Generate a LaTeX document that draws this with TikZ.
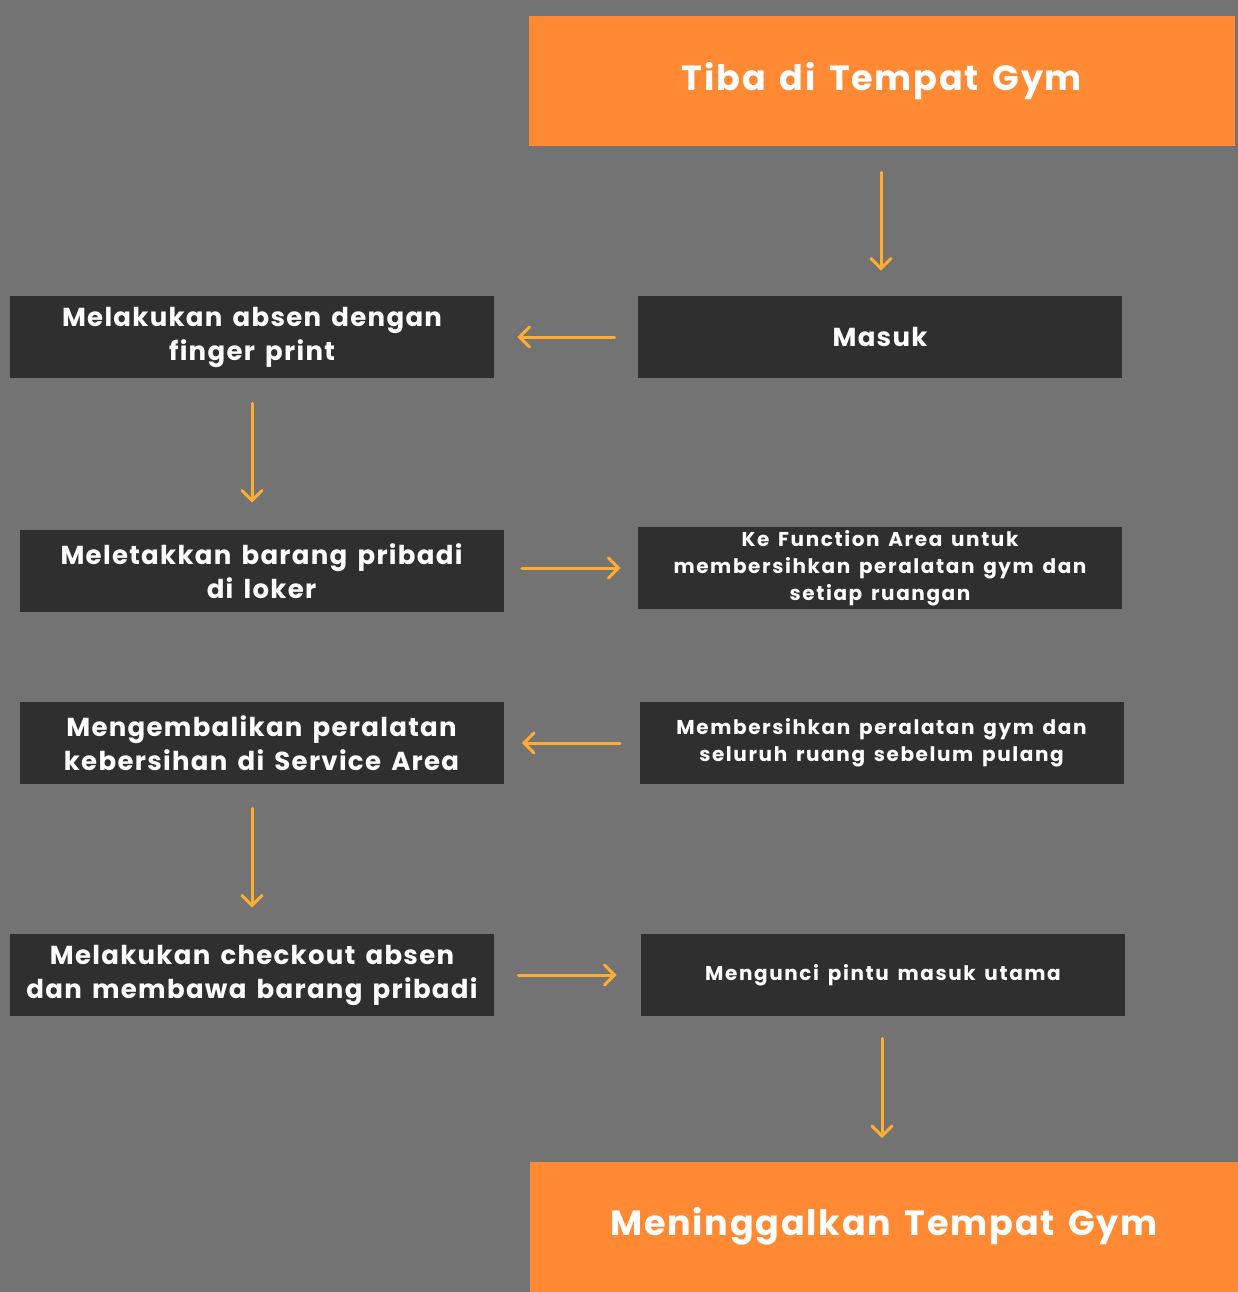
\documentclass[tikz,border=0pt]{standalone}
\usepackage{fontspec}
\setmainfont{Poppins}[LetterSpace=5,WordSpace=1.5]
\usetikzlibrary{arrows.meta}
\definecolor{bgc}{HTML}{737373}
\definecolor{boxc}{HTML}{2F2F2F}
\definecolor{orc}{HTML}{FF8A33}
\definecolor{arc}{HTML}{FFAC33}
\tikzset{
  darkbox/.style={fill=boxc, text=white, inner sep=0pt, minimum width=242pt, minimum height=41pt, align=center, font=\bfseries\fontsize{13}{17}\selectfont},
  smallbox/.style={darkbox, font=\bfseries\fontsize{10}{13.5}\selectfont\addfontfeature{LetterSpace=8}},
  orbox/.style={fill=orc, text=white, inner sep=0pt, minimum height=65pt, font=\bfseries\fontsize{17.5}{20}\selectfont},
  flow/.style={draw=arc, line width=1.5pt, line cap=round, -{Straight Barb[length=5pt,width=10pt,line cap=round]}, shorten <=11.5pt, shorten >=11.5pt}
}
\begin{document}
\begin{tikzpicture}[x=0.5pt,y=-0.5pt]
\fill[bgc] (0,0) rectangle (1238,1292);
\useasboundingbox (0,0) rectangle (1238,1292);
\node[orbox, minimum width=353pt] (tiba) at (882,81) {Tiba di Tempat Gym};
\node[darkbox] (masuk) at (880,337) {Masuk};
\node[darkbox] (absen) at (252,337) {Melakukan absen dengan\\finger print};
\node[darkbox] (loker) at (261.5,571) {Meletakkan barang pribadi\\di loker};
\node[smallbox] (func) at (880,568) {Ke Function Area untuk\\membersihkan peralatan gym dan\\setiap ruangan};
\node[darkbox] (kembali) at (261.5,743) {Mengembalikan peralatan\\kebersihan di Service Area};
\node[smallbox] (bersih) at (881.5,743) {Membersihkan peralatan gym dan\\seluruh ruang sebelum pulang};
\node[darkbox] (checkout) at (252,975) {Melakukan checkout absen\\dan membawa barang pribadi};
\node[smallbox] (kunci) at (883,975) {Mengunci pintu masuk utama};
\node[orbox, minimum width=354pt] (pulang) at (884,1226.5) {\fontsize{17.5}{21}\selectfont Meninggalkan Tempat Gym};
\draw[flow, shorten <=13pt, shorten >=12.5pt] (tiba.south -| 881,0) -- (881,0 |- masuk.north);
\draw[flow] (masuk.west) -- (absen.east);
\draw[flow, shorten <=12.5pt, shorten >=13.5pt] (absen.south) -- (absen.south |- loker.north);
\draw[flow, shorten <=9pt, shorten >=8.5pt] (loker.east |- func.west) -- (func.west);
\draw[flow, shorten <=9.5pt, shorten >=9pt] (bersih.west) -- (kembali.east);
\draw[flow, shorten <=12pt, shorten >=13pt] (kembali.south -| absen.south) -- (absen.south |- checkout.north);
\draw[flow, shorten <=12pt, shorten >=12pt] (checkout.east) -- (kunci.west);
\draw[flow, shorten <=11pt, shorten >=11.5pt] (kunci.south -| 882,0) -- (882,0 |- pulang.north);
\end{tikzpicture}
\end{document}
